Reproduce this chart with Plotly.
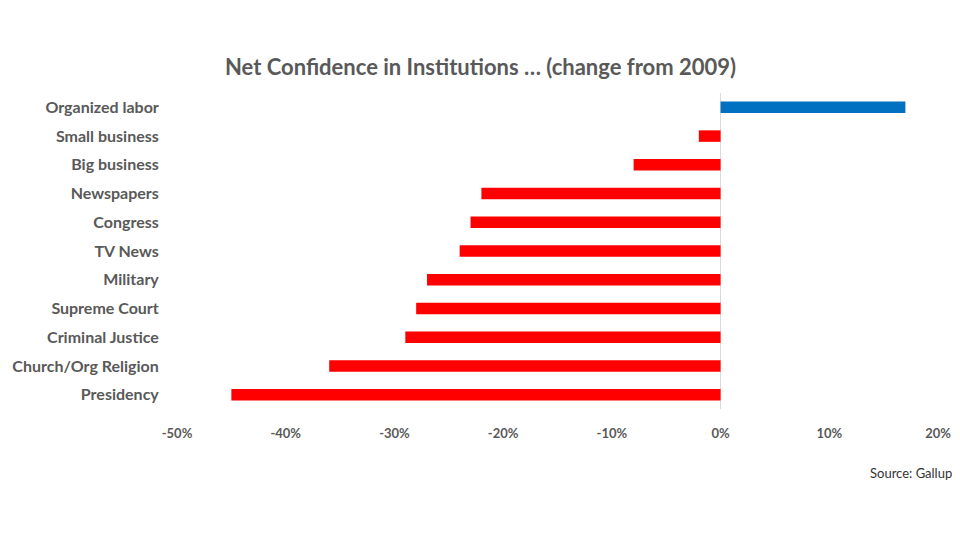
import plotly.graph_objects as go

categories = ["Organized labor", "Small business", "Big business", "Newspapers", "Congress",
              "TV News", "Military", "Supreme Court", "Criminal Justice",
              "Church/Org Religion", "Presidency"]
changes = [0.17, -0.02, -0.08, -0.22, -0.23, -0.24, -0.27, -0.28, -0.29, -0.36, -0.45]
tick_vals = [-0.5, -0.4, -0.3, -0.2, -0.1, 0.0, 0.1, 0.2]
tick_text = ["-50%", "-40%", "-30%", "-20%", "-10%", "0%", "10%", "20%"]

colors = ["#0070C0" if v > 0 else "#FF0000" for v in changes]

# page body has an 8px margin; figure is sized to fill the rest of the window
W, H = 952, 532

fig = go.Figure(go.Bar(
    x=changes, y=categories, orientation="h",
    marker=dict(color=colors, line=dict(width=0)),
    hoverinfo="x+y",
))

fig.update_layout(
    width=W, height=H,
    paper_bgcolor="white", plot_bgcolor="white",
    margin=dict(l=169, r=22, t=85, b=131, autoexpand=False),
    bargap=0.6,
    showlegend=False,
    font=dict(family="Lato", color="#595959"),
    title=dict(text="Net Confidence in Institutions … (change from 2009)",
               x=472.5 / W, xref="container", xanchor="center", y=1 - 59 / H, yref="container",
               yanchor="middle",
               font=dict(family="Lato", size=22, color="#595959", weight="bold")),
    annotations=[dict(text="Source: Gallup", x=1.0, xanchor="right", xshift=16,
                      y=-(465 - 401) / 316, yanchor="middle", xref="paper", yref="paper",
                      showarrow=False, font=dict(family="Lato", size=13, color="#333333"))],
)
fig.update_xaxes(range=[-0.5, 0.2], tickvals=tick_vals, ticktext=tick_text,
                 showgrid=False, zeroline=True, zerolinecolor="#D9D9D9", zerolinewidth=1,
                 showline=False, ticks="outside", ticklen=12, tickcolor="rgba(0,0,0,0)",
                 tickfont=dict(family="Lato", size=13, color="#595959", weight="bold"))
fig.update_yaxes(autorange="reversed", showgrid=False, showline=False,
                 ticks="outside", ticklen=14, tickcolor="rgba(0,0,0,0)",
                 tickfont=dict(family="Lato", size=16, color="#595959", weight="bold"))

fig.write_html("out.html")
